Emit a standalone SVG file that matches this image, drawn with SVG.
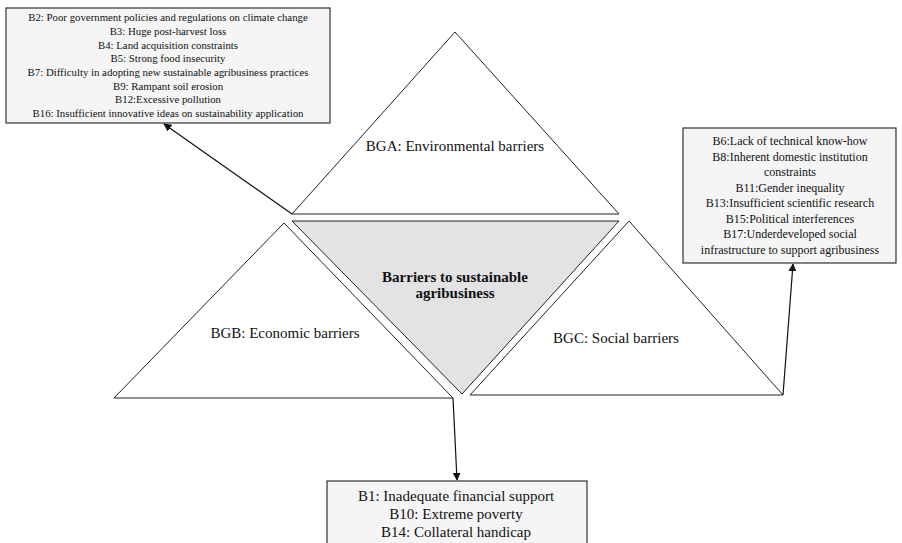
<svg xmlns="http://www.w3.org/2000/svg" width="902" height="543" viewBox="0 0 902 543">
<style>
.tri{fill:#ffffff;stroke:#222;stroke-width:1}
.core{fill:#e3e3e5;stroke:#222;stroke-width:1}
.box{fill:#f5f5f5;stroke:#333;stroke-width:1.2}
text{font-family:"Liberation Serif","Times New Roman",serif;fill:#111;text-anchor:middle}
.s{font-size:10.8px}
.m{font-size:12px}
.l{font-size:15px}
.lab{font-size:15px}
.b{font-size:15px;font-weight:bold}
.con{stroke:#111;stroke-width:1.2;fill:none;marker-end:url(#ah)}
</style>
<defs>
<marker id="ah" viewBox="0 0 10 10" refX="9" refY="5" markerWidth="8" markerHeight="8" markerUnits="userSpaceOnUse" orient="auto">
<path d="M0,0 L10,5 L0,10 z" fill="#111"/>
</marker>
</defs>
<rect width="902" height="543" fill="#ffffff"/>
<g id="connectors">
<line class="con" x1="292" y1="214" x2="164" y2="124"/>
<line class="con" x1="783" y1="395" x2="793" y2="264"/>
<line class="con" x1="453" y1="398" x2="457" y2="480"/>
</g>
<g id="bga">
<polygon class="tri" points="455,32 292,214 619,214"/>
<text class="lab" x="455" y="151">BGA: Environmental barriers</text>
</g>
<g id="bgb">
<polygon class="tri" points="284,223 114,398 453,398"/>
<text class="lab" x="285" y="338">BGB: Economic barriers</text>
</g>
<g id="bgc">
<polygon class="tri" points="629,221 470,395 783,395"/>
<text class="lab" x="616" y="343">BGC: Social barriers</text>
</g>
<g id="core">
<polygon class="core" points="292,221 619,221 462,394"/>
<text class="b" x="455" y="282">Barriers to sustainable</text>
<text class="b" x="455" y="298">agribusiness</text>
</g>
<g id="env-box">
<rect class="box" x="6" y="8" width="324" height="115"/>
<text class="s" x="168" y="21">B2: Poor government policies and regulations on climate change</text>
<text class="s" x="168" y="35">B3: Huge post-harvest loss</text>
<text class="s" x="168" y="48.5">B4: Land acquisition constraints</text>
<text class="s" x="168" y="62">B5: Strong food insecurity</text>
<text class="s" x="168" y="76">B7: Difficulty in adopting new sustainable agribusiness practices</text>
<text class="s" x="168" y="89.5">B9: Rampant soil erosion</text>
<text class="s" x="168" y="103">B12:Excessive pollution</text>
<text class="s" x="168" y="117">B16: Insufficient innovative ideas on sustainability application</text>
</g>
<g id="soc-box">
<rect class="box" x="683" y="128" width="213" height="135"/>
<text class="m" x="790" y="145">B6:Lack of technical know-how</text>
<text class="m" x="790" y="160.5">B8:Inherent domestic institution</text>
<text class="m" x="790" y="176">constraints</text>
<text class="m" x="790" y="191.5">B11:Gender inequality</text>
<text class="m" x="790" y="207">B13:Insufficient scientific research</text>
<text class="m" x="790" y="222.5">B15:Political interferences</text>
<text class="m" x="790" y="238">B17:Underdeveloped social</text>
<text class="m" x="790" y="253.5">infrastructure to support agribusiness</text>
</g>
<g id="eco-box">
<rect class="box" x="327" y="481" width="260" height="70"/>
<text class="l" x="456" y="501">B1: Inadequate financial support</text>
<text class="l" x="456" y="519">B10: Extreme poverty</text>
<text class="l" x="456" y="537">B14: Collateral handicap</text>
</g>
</svg>
